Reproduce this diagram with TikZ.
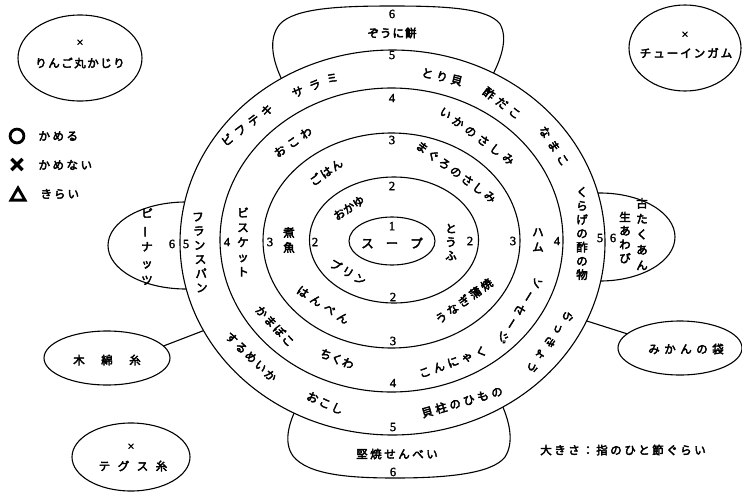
\documentclass[tikz,border=0pt]{standalone}
\usepackage{fontspec}
\usepackage{graphicx}
\usetikzlibrary{shapes.geometric}
\newfontfamily\cjk[FakeBold=3.5]{Noto Sans CJK JP}
\newfontfamily\cjksym[FakeBold=14]{Noto Sans CJK JP}
\newfontfamily\numf[FakeBold=2]{Liberation Serif}
\makeatletter
\newcommand\spc[2]{\def\spc@sep{\kern#1\relax}\spc@loop#2\relax\unkern}
\def\spc@loop#1{\ifx#1\relax\else#1\spc@sep\expandafter\spc@loop\fi}
\makeatother
\begin{document}
\begin{tikzpicture}[x=1pt,y=-1pt,line width=1.1pt,
 ring/.style={draw,ellipse,inner sep=0pt,outer sep=0pt},
 oval/.style={draw,ellipse,inner sep=0pt,outer sep=0pt},
 num/.style={inner sep=0pt,font=\numf\fontsize{12.5}{13}\selectfont},
 jp/.style={inner sep=0pt,font=\cjk\fontsize{11.5}{13}\selectfont},
 vt/.style={inner sep=0pt,align=center,font=\cjk\fontsize{11.5}{#1}\selectfont},
 sym/.style={inner sep=0pt,font=\cjksym\fontsize{16}{17}\selectfont}]
\useasboundingbox (0,0) rectangle (742,493);
% bumps (drawn first, inner parts hidden by ring 5)
\draw (283,82) .. controls (272,60) and (268,38) .. (280,24) .. controls (295,8) and (340,6) .. (392,6) .. controls (445,6) and (488,8) .. (500,24) .. controls (508,38) and (502,58) .. (490,80);
\draw (298,405) .. controls (289,422) and (283,442) .. (293,456) .. controls (308,475) and (350,478) .. (395,478) .. controls (445,478) and (492,474) .. (505,457) .. controls (514,443) and (510,423) .. (502,405);
\draw (186,245.5) ellipse [x radius=78pt, y radius=43.5pt];
\draw (600,237) ellipse [x radius=75pt, y radius=44pt];
% rings
\node[ring,fill=white,minimum width=425pt,minimum height=385pt] (r5) at (392.5,242.5) {};
\node[ring,minimum width=343pt,minimum height=304pt] (r4) at (391.5,240) {};
\node[ring,minimum width=257pt,minimum height=215pt] (r3) at (391.5,240.5) {};
\node[ring,minimum width=169pt,minimum height=126pt] (r2) at (394,240) {};
\node[ring,minimum width=86pt,minimum height=48pt] (r1) at (392,241) {};
% outer ovals
\node[oval,minimum width=124pt,minimum height=86pt] (ringo) at (80,58) {};
\node[oval,minimum width=112pt,minimum height=86pt] (gum) at (685,48) {};
\node[oval,minimum width=126pt,minimum height=54pt] (momen) at (107,358) {};
\node[oval,minimum width=118pt,minimum height=68pt] (tegusu) at (131,457) {};
\node[oval,minimum width=124pt,minimum height=54pt] (mikan) at (680,348) {};
\draw (r5.205) -- (momen.12);
\draw (r5.-22) -- (mikan.165);
% numbers
\node[num] (n1) at (392,226) {1};
\node[num] (n2t) at (392,186) {2};
\node[num] (n2l) at (315,242) {2};
\node[num] (n2r) at (470,241) {2};
\node[num] (n2b) at (393,297) {2};
\node[num] (n3t) at (392,140) {3};
\node[num] (n3l) at (270,242) {3};
\node[num] (n3r) at (513,241) {3};
\node[num] (n3b) at (393,341) {3};
\node[num] (n4t) at (392,98) {4};
\node[num] (n4l) at (227,242) {4};
\node[num] (n4r) at (557,241) {4};
\node[num] (n4b) at (393,383) {4};
\node[num] (n5t) at (392,55) {5};
\node[num] (n5l) at (186,244) {5};
\node[num] (n5r) at (600,238) {5};
\node[num] (n5b) at (393,427) {5};
\node[num] (n6t) at (392,14) {6};
\node[num] (n6l) at (172,244) {6};
\node[num] (n6r) at (613,238) {6};
\node[num] (n6b) at (393,472) {6};
% ring 1 and 2
\node[jp,font=\cjk\fontsize{12.5}{13}\selectfont] (soup) at (392,243) {\spc{12pt}{スープ}};
\node[jp,rotate=33] (okayu) at (349,208) {おかゆ};
\node[vt=13.5] (tofu) at (451,242) {と\\う\\ふ};
\node[jp,rotate=-30] (purin) at (348,272) {\spc{2.5pt}{プリン}};
% ring 3
\node[jp,rotate=35] (gohan) at (326,172) {\spc{1.5pt}{ごはん}};
\node[jp,rotate=-36] (maguro) at (456,172) {\spc{2.5pt}{まぐろのさしみ}};
\node[vt=15] (nizakana) at (289,240) {煮\\魚};
\node[jp,rotate=-33] (hanpen) at (323,305) {\spc{4.5pt}{はんぺん}};
\node[jp,rotate=36] (unagi) at (464,301) {\spc{2.5pt}{うなぎ蒲焼}};
% ring 4
\node[jp,rotate=35] (okowa) at (293,142) {\spc{4.5pt}{おこわ}};
\node[jp,rotate=-36] (ika) at (477,136) {\spc{4pt}{いかのさしみ}};
\node[vt=14.75] (biscuit) at (243,242) {ビ\\ス\\ケ\\ッ\\ト};
\node[vt=15] (ham) at (538,240) {ハ\\ム};
\node[jp,rotate=-47] (kamaboko) at (275,326) {\spc{1.5pt}{かまぼこ}};
\node[jp,rotate=-22] (chikuwa) at (337,359) {\spc{0.5pt}{ちくわ}};
\node[jp,rotate=20] (konnyaku) at (453,362) {\spc{3.5pt}{こんにゃく}};
\node[jp,rotate=-122] (sausage) at (520,310) {\spc{4.5pt}{ソーセージ}};
% ring 5
\node[jp,rotate=37] (beef) at (247,125) {\spc{5pt}{ビフテキ}};
\node[jp,rotate=22] (salami) at (315,85) {\spc{7pt}{サラミ}};
\node[jp,rotate=-13] (torigai) at (442,77) {\spc{3.5pt}{とり貝}};
\node[jp,rotate=-37] (sudako) at (502,103) {\spc{4.5pt}{酢だこ}};
\node[jp,rotate=-57] (namako) at (554,146) {\spc{5pt}{なまこ}};
\node[vt=13.8] (kurage) at (582,233.5) {く\\ら\\げ\\の\\酢\\の\\物};
\node[vt=14.2,rotate=3] (france) at (200,252.5) {フ\\ラ\\ン\\ス\\パ\\ン};
\node[jp,rotate=-44] (surume) at (251,357) {\spc{2pt}{するめいか}};
\node[jp,rotate=-24] (okoshi) at (325,403) {\spc{2pt}{おこし}};
\node[jp,rotate=16] (kaibashira) at (462,402) {\spc{3pt}{貝柱のひもの}};
\node[jp,rotate=-125] (rakkyo) at (550,342) {\spc{4pt}{らっきょう}};
% bumps text
\node[jp] (zouni) at (392,33) {\spc{1pt}{ぞうに餅}};
\node[jp] (senbei) at (397,454) {\spc{2.5pt}{堅焼せんべい}};
\node[vt=16.75] (peanut) at (147,246.5) {ピ\\\rotatebox[origin=c]{90}{ー}\\ナ\\ッ\\ツ};
\node[vt=15.5] (takuan) at (642,234) {古\\た\\く\\あ\\ん};
\node[vt=13.7] (awabi) at (625,237.5) {生\\あ\\わ\\び};
% oval texts
\node[num] (ringox) at (80,43) {×};
\node[jp] (ringot) at (80,63) {\spc{1.5pt}{りんご丸かじり}};
\node[num] (gumx) at (685,35) {×};
\node[jp] (gumt) at (686,53) {\spc{2pt}{チューインガム}};
\node[jp] (moment) at (107,360) {\spc{16.5pt}{木綿糸}};
\node[num] (tegusux) at (131,447) {×};
\node[jp] (tegusut) at (133,466) {\spc{7.5pt}{テグス糸}};
\node[jp] (mikant) at (686,349) {\spc{4.5pt}{みかんの袋}};
% legend
\node[sym] (lo) at (17,136) {○};
\node[jp,anchor=west] (lot) at (38,136) {\spc{2.5pt}{かめる}};
\node[sym] (lx) at (17,165) {×};
\node[jp,anchor=west] (lxt) at (38,165) {\spc{2.5pt}{かめない}};
\node[sym] (lt) at (18,194) {△};
\node[jp,anchor=west] (ltt) at (40,194) {\spc{2pt}{きらい}};
\node[jp] (size) at (623,450) {\spc{2.5pt}{大きさ：指のひと節ぐらい}};
\end{tikzpicture}
\end{document}
